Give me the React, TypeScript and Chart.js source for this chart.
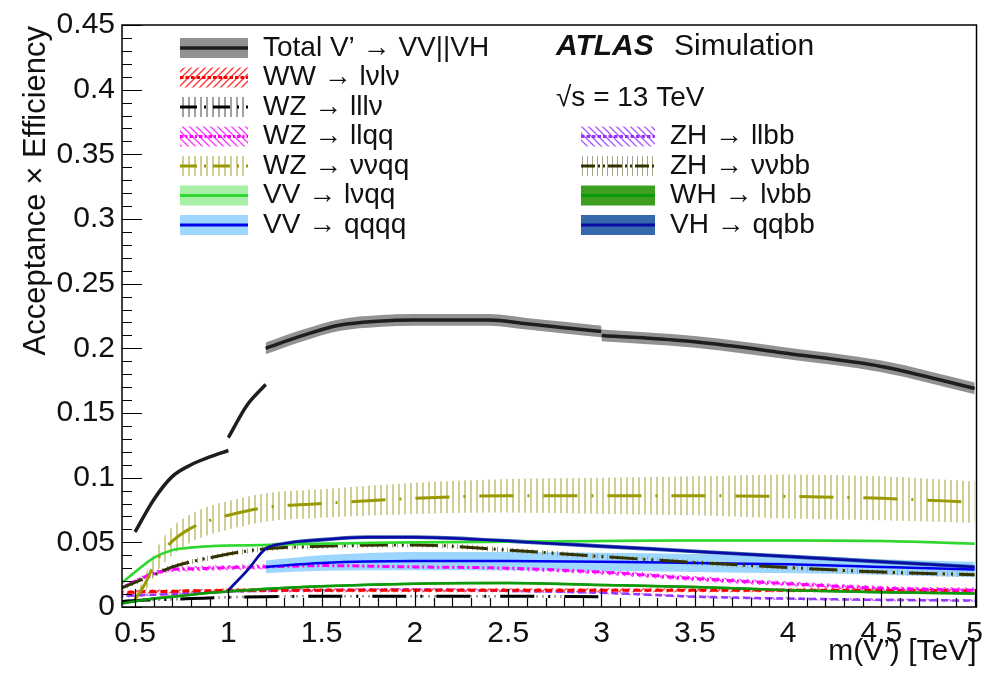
import React, { useEffect, useRef } from 'react';
import { Chart, registerables } from 'chart.js';

Chart.register(...registerables);

// ---------- axis ticks ----------
const yTickValues = [0, 0.05, 0.1, 0.15, 0.2, 0.25, 0.3, 0.35, 0.4, 0.45];
const yTickLabels = ['0', '0.05', '0.1', '0.15', '0.2', '0.25', '0.3', '0.35', '0.4', '0.45'];
const xTickValues = [0.5, 1, 1.5, 2, 2.5, 3, 3.5, 4, 4.5, 5];
const xTickLabels = ['0.5', '1', '1.5', '2', '2.5', '3', '3.5', '4', '4.5', '5'];

// ---------- series (mass in TeV) ----------
const commonMass = [0.4, 0.5, 0.6, 0.7, 0.8, 0.9, 1.0, 1.2, 1.5, 2.0, 2.5, 3.0, 3.5, 4.0, 4.5, 5.0];

const totalMass = [0.5, 0.6, 0.7, 0.8, 0.9, 1.0, 1.0, 1.1, 1.2, 1.2, 1.4, 1.6, 1.8, 2.0, 2.2, 2.4, 2.6, 2.8, 3.0, 3.0, 3.5, 4.0, 4.5, 5.0];
const totalSegment = [0, 0, 0, 0, 0, 0, 1, 1, 1, 2, 2, 2, 2, 2, 2, 2, 2, 2, 2, 3, 3, 3, 3, 3];
const totalValue = [0.058, 0.083, 0.101, 0.11, 0.116, 0.121, 0.131, 0.156, 0.172, 0.2, 0.21, 0.218, 0.221, 0.222, 0.222, 0.222, 0.219, 0.216, 0.213, 0.21, 0.205, 0.196, 0.186, 0.169];
const totalErr = [0.001, 0.001, 0.001, 0.001, 0.001, 0.001, 0.001, 0.001, 0.001, 0.0045, 0.0045, 0.0045, 0.0045, 0.0045, 0.0045, 0.0045, 0.0045, 0.0045, 0.0045, 0.0045, 0.0045, 0.0045, 0.0045, 0.0045];

const wwLvlv = [0.011, 0.0115, 0.012, 0.012, 0.0125, 0.0125, 0.013, 0.013, 0.013, 0.013, 0.013, 0.013, 0.013, 0.013, 0.013, 0.0125];
const wwLvlvErr = [0.0015, 0.0015, 0.0015, 0.0015, 0.0015, 0.0015, 0.0015, 0.0015, 0.0015, 0.0015, 0.0015, 0.0015, 0.0015, 0.0015, 0.0015, 0.0015];

const lllvMass = [0.4, 0.5, 0.6, 0.8, 1.0, 1.2, 1.5, 2.0, 2.5, 3.0];
const wzLllv = [0.004, 0.005, 0.0055, 0.0065, 0.0075, 0.008, 0.0083, 0.0083, 0.0083, 0.008];
const wzLllvErr = [0.001, 0.001, 0.001, 0.001, 0.001, 0.001, 0.001, 0.001, 0.001, 0.001];

const wzLlqq = [0.013, 0.02, 0.026, 0.029, 0.0295, 0.03, 0.0305, 0.031, 0.032, 0.031, 0.03, 0.027, 0.022, 0.018, 0.0145, 0.013];
const wzLlqqErr = [0.001, 0.0015, 0.002, 0.002, 0.002, 0.002, 0.002, 0.002, 0.002, 0.002, 0.002, 0.002, 0.002, 0.002, 0.002, 0.002];

const vvqqMass = [0.5, 0.55, 0.6, 0.65, 0.7, 0.8, 0.9, 1.0, 1.2, 1.5, 2.0, 2.5, 3.0, 3.5, 4.0, 4.5, 5.0];
const wzVvqq = [0.006, 0.017, 0.032, 0.043, 0.051, 0.061, 0.067, 0.071, 0.077, 0.08, 0.084, 0.086, 0.086, 0.086, 0.0855, 0.084, 0.081];
const wzVvqqErr = [0.002, 0.006, 0.009, 0.01, 0.011, 0.011, 0.011, 0.011, 0.011, 0.011, 0.012, 0.013, 0.014, 0.015, 0.017, 0.017, 0.016];

const vvLvqq = [0.015, 0.027, 0.038, 0.044, 0.046, 0.047, 0.0475, 0.048, 0.049, 0.05, 0.0505, 0.051, 0.0515, 0.0515, 0.051, 0.049];
const vvLvqqErr = [0.001, 0.001, 0.001, 0.001, 0.001, 0.001, 0.001, 0.001, 0.001, 0.001, 0.001, 0.001, 0.001, 0.001, 0.001, 0.001];

const qqqqMass = [1.2, 1.5, 2.0, 2.5, 3.0, 3.5, 4.0, 4.5, 5.0];
const vvQqqq = [0.031, 0.034, 0.0355, 0.0355, 0.035, 0.034, 0.033, 0.031, 0.029];
const vvQqqqErr = [0.005, 0.006, 0.007, 0.007, 0.007, 0.007, 0.007, 0.006, 0.006];

const zhLlbb = [0.008, 0.009, 0.0095, 0.01, 0.011, 0.0115, 0.012, 0.0125, 0.013, 0.0135, 0.0125, 0.011, 0.008, 0.0065, 0.0055, 0.005];
const zhLlbbErr = [0.001, 0.001, 0.001, 0.001, 0.001, 0.001, 0.001, 0.001, 0.001, 0.001, 0.001, 0.001, 0.001, 0.001, 0.001, 0.001];

const zhVvbb = [0.013, 0.019, 0.025, 0.031, 0.035, 0.038, 0.041, 0.045, 0.047, 0.048, 0.044, 0.039, 0.0345, 0.0305, 0.027, 0.025];
const zhVvbbErr = [0.002, 0.002, 0.002, 0.002, 0.002, 0.002, 0.002, 0.002, 0.002, 0.002, 0.002, 0.002, 0.002, 0.002, 0.002, 0.002];

const whLvbb = [0.002, 0.0045, 0.0065, 0.008, 0.0095, 0.011, 0.012, 0.014, 0.016, 0.018, 0.0185, 0.017, 0.0155, 0.013, 0.0115, 0.0105];
const whLvbbErr = [0.001, 0.001, 0.001, 0.001, 0.001, 0.001, 0.001, 0.001, 0.001, 0.001, 0.001, 0.001, 0.001, 0.001, 0.001, 0.001];

const qqbbMass = [1.0, 1.1, 1.2, 1.3, 1.5, 1.75, 2.0, 2.5, 3.0, 3.5, 4.0, 4.5, 5.0];
const vhQqbb = [0.013, 0.028, 0.045, 0.049, 0.052, 0.054, 0.054, 0.051, 0.047, 0.043, 0.039, 0.035, 0.031];
const vhQqbbErr = [0.0015, 0.0015, 0.0015, 0.0015, 0.0015, 0.0015, 0.0015, 0.0015, 0.0015, 0.0015, 0.0015, 0.0015, 0.0015];

// ---------- texts ----------
const seriesLabels = {
  total: 'Total V\u2019 \u2192 VV||VH',
  wwLvlv: 'WW \u2192 l\u03BDl\u03BD',
  wzLllv: 'WZ \u2192 lll\u03BD',
  wzLlqq: 'WZ \u2192 llqq',
  wzVvqq: 'WZ \u2192 \u03BD\u03BDqq',
  vvLvqq: 'VV \u2192 l\u03BDqq',
  vvQqqq: 'VV \u2192 qqqq',
  zhLlbb: 'ZH \u2192 llbb',
  zhVvbb: 'ZH \u2192 \u03BD\u03BDbb',
  whLvbb: 'WH \u2192 l\u03BDbb',
  vhQqbb: 'VH \u2192 qqbb',
};
const xTitle = 'm(V\u2019) [TeV]';
const yTitle = 'Acceptance \u00D7 Efficiency';
const FONT = "'Liberation Sans', Arial, Helvetica, sans-serif";

type Style = { line: string; width: number; dash: number[]; band: any };

export default function App() {
  const ref = useRef<HTMLCanvasElement>(null);

  useEffect(() => {
    const canvas = ref.current!;
    const mainCtx = canvas.getContext('2d')!;

    const pattern = (kind: string, color: string, size: number, lw: number) => {
      const c = document.createElement('canvas');
      c.width = size;
      c.height = size;
      const g = c.getContext('2d')!;
      g.strokeStyle = color;
      g.lineWidth = lw;
      g.beginPath();
      if (kind === 'v') {
        g.moveTo(size / 2, 0);
        g.lineTo(size / 2, size);
      } else if (kind === '/') {
        g.moveTo(0, size); g.lineTo(size, 0);
        g.moveTo(-size, size); g.lineTo(size, -size);
        g.moveTo(0, 2 * size); g.lineTo(2 * size, 0);
      } else {
        g.moveTo(0, 0); g.lineTo(size, size);
        g.moveTo(-size, 0); g.lineTo(size, 2 * size);
        g.moveTo(0, -size); g.lineTo(2 * size, size);
      }
      g.stroke();
      return mainCtx.createPattern(c, 'repeat');
    };

    const st: Record<string, Style> = {
      total: { line: '#1e1e1e', width: 3.5, dash: [], band: 'rgba(110,110,110,0.75)' },
      wwLvlv: { line: '#ff0000', width: 3, dash: [7, 4], band: pattern('/', '#ff3030', 7, 1.3) },
      wzLllv: { line: '#000000', width: 3, dash: [34, 14, 2, 14], band: pattern('v', '#444444', 6, 1) },
      wzLlqq: { line: '#ff00ff', width: 3, dash: [7, 3, 2, 3], band: pattern('\\', '#ff33ff', 7, 1.3) },
      wzVvqq: { line: '#999900', width: 3, dash: [34, 14, 2, 14], band: pattern('v', '#b5b55a', 6, 1.3) },
      vvLvqq: { line: '#2fd82f', width: 2.5, dash: [], band: '#a8f0a8' },
      vvQqqq: { line: '#0000ee', width: 2.5, dash: [], band: '#9dd6ff' },
      zhLlbb: { line: '#9933ff', width: 2.5, dash: [7, 4], band: pattern('\\', '#a855ff', 7, 1.3) },
      zhVvbb: { line: '#333300', width: 3, dash: [28, 6, 2, 6, 2, 6], band: pattern('v', '#a3a385', 5, 1) },
      whLvbb: { line: '#0a9a0a', width: 2.5, dash: [], band: '#3e9e22' },
      vhQqbb: { line: '#0a0aa5', width: 2.5, dash: [], band: '#3568ad' },
    };

    const datasets: any[] = [];
    const common = { pointRadius: 0, cubicInterpolationMode: 'monotone' };
    const addSeries = (pts: { x: number; y: number | null; e: number }[], s: Style) => {
      datasets.push({
        ...common,
        data: pts.map((p) => ({ x: p.x, y: p.y === null ? null : p.y + p.e })),
        fill: '+1', backgroundColor: s.band, borderColor: 'rgba(0,0,0,0)', borderWidth: 0, order: 1,
      });
      datasets.push({
        ...common,
        data: pts.map((p) => ({ x: p.x, y: p.y === null ? null : p.y - p.e })),
        fill: false, borderColor: 'rgba(0,0,0,0)', borderWidth: 0, order: 1,
      });
      datasets.push({
        ...common,
        data: pts.map((p) => ({ x: p.x, y: p.y })),
        fill: false, borderColor: s.line, borderWidth: s.width, borderDash: s.dash, order: 0,
      });
    };
    const pts = (mass: number[], val: number[], err: number[]) =>
      mass.map((m, i) => ({ x: m, y: val[i], e: err[i] }));

    // Total with gaps between segments
    const totalPts: { x: number; y: number | null; e: number }[] = [];
    totalMass.forEach((m, i) => {
      if (i > 0 && totalSegment[i] !== totalSegment[i - 1]) totalPts.push({ x: m, y: null, e: 0 });
      totalPts.push({ x: m, y: totalValue[i], e: totalErr[i] });
    });

    addSeries(totalPts, st.total);
    addSeries(pts(vvqqMass, wzVvqq, wzVvqqErr), st.wzVvqq);
    addSeries(pts(qqbbMass, vhQqbb, vhQqbbErr), st.vhQqbb);
    addSeries(pts(commonMass, vvLvqq, vvLvqqErr), st.vvLvqq);
    addSeries(pts(commonMass, zhVvbb, zhVvbbErr), st.zhVvbb);
    addSeries(pts(qqqqMass, vvQqqq, vvQqqqErr), st.vvQqqq);
    addSeries(pts(commonMass, wzLlqq, wzLlqqErr), st.wzLlqq);
    addSeries(pts(commonMass, whLvbb, whLvbbErr), st.whLvbb);
    addSeries(pts(commonMass, wwLvlv, wwLvlvErr), st.wwLvlv);
    addSeries(pts(commonMass, zhLlbb, zhLlbbErr), st.zhLlbb);
    addSeries(pts(lllvMass, wzLllv, wzLllvErr), st.wzLllv);

    const text = (ctx: CanvasRenderingContext2D, s: string, x: number, y: number, size: number, align: CanvasTextAlign, weight = 'normal', style = 'normal') => {
      ctx.font = `${style} ${weight} ${size}px ${FONT}`;
      ctx.textAlign = align;
      ctx.textBaseline = 'middle';
      ctx.fillStyle = '#111';
      ctx.fillText(s, x, y);
    };

    const symbol = (ctx: CanvasRenderingContext2D, x: number, y: number, w: number, h: number, s: Style) => {
      ctx.fillStyle = s.band;
      ctx.fillRect(x, y - h / 2, w, h);
      ctx.strokeStyle = s.line;
      ctx.lineWidth = Math.max(s.width, 3);
      ctx.setLineDash(s.dash.length ? s.dash.map((d) => Math.max(2, d * 0.5)) : []);
      ctx.beginPath();
      ctx.moveTo(x, y);
      ctx.lineTo(x + w, y);
      ctx.stroke();
      ctx.setLineDash([]);
    };

    const overlay = {
      id: 'overlay',
      afterDraw(chart: any) {
        const ctx: CanvasRenderingContext2D = chart.ctx;
        const a = chart.chartArea;
        const xs = chart.scales.x;
        const ys = chart.scales.y;
        ctx.save();
        // frame
        ctx.strokeStyle = '#000';
        ctx.lineWidth = 1.5;
        ctx.strokeRect(a.left, a.top, a.right - a.left, a.bottom - a.top);
        // ticks
        ctx.lineWidth = 1.2;
        ctx.beginPath();
        for (let i = 0; i <= 45; i++) {
          const py = Math.round(ys.getPixelForValue(i / 100)) + 0.5;
          const len = i % 5 === 0 ? 20 : 10;
          ctx.moveTo(a.left, py);
          ctx.lineTo(a.left + len, py);
        }
        for (let i = 5; i <= 50; i++) {
          const px = Math.round(xs.getPixelForValue(i / 10)) + 0.5;
          const len = i % 5 === 0 ? 18 : 9;
          ctx.moveTo(px, a.bottom);
          ctx.lineTo(px, a.bottom - len);
        }
        ctx.stroke();

        // axis titles
        text(ctx, xTitle, a.right, 652, 30, 'right');
        ctx.save();
        ctx.translate(36, a.top + 1);
        ctx.rotate(-Math.PI / 2);
        text(ctx, yTitle, 0, 0, 31, 'right');
        ctx.restore();

        // legend, left column
        const leftRows: [string, Style][] = [
          [seriesLabels.total, st.total],
          [seriesLabels.wwLvlv, st.wwLvlv],
          [seriesLabels.wzLllv, st.wzLllv],
          [seriesLabels.wzLlqq, st.wzLlqq],
          [seriesLabels.wzVvqq, st.wzVvqq],
          [seriesLabels.vvLvqq, st.vvLvqq],
          [seriesLabels.vvQqqq, st.vvQqqq],
        ];
        leftRows.forEach(([label, s], i) => {
          const yy = 48 + i * 29.5;
          symbol(ctx, 180, yy, 68, 20, s);
          text(ctx, label, 263, yy, 28, 'left');
        });
        const rightRows: [string, Style][] = [
          [seriesLabels.zhLlbb, st.zhLlbb],
          [seriesLabels.zhVvbb, st.zhVvbb],
          [seriesLabels.whLvbb, st.whLvbb],
          [seriesLabels.vhQqbb, st.vhQqbb],
        ];
        rightRows.forEach(([label, s], i) => {
          const yy = 136.5 + i * 29.5;
          symbol(ctx, 581, yy, 74, 20, s);
          text(ctx, label, 670, yy, 28, 'left');
        });

        // ATLAS label
        text(ctx, 'ATLAS', 556, 47, 30, 'left', 'bold', 'italic');
        text(ctx, 'Simulation', 674, 47, 30, 'left');
        text(ctx, '\u221As = 13 TeV', 556, 98, 28, 'left');
        ctx.restore();
      },
    };

    const chart = new Chart(canvas, {
      type: 'line',
      data: { datasets },
      options: {
        animation: false,
        responsive: false,
        layout: { padding: { left: 0, top: 13, right: 5, bottom: 0 } },
        plugins: {
          legend: { display: false },
          tooltip: { enabled: false },
          filler: { drawTime: 'beforeDatasetsDraw' },
        } as any,
        scales: {
          x: {
            type: 'linear',
            min: 0.43,
            max: 5.01,
            afterBuildTicks: (s: any) => { s.ticks = xTickValues.map((v) => ({ value: v })); },
            afterFit: (s: any) => { s.height = 73; },
            grid: { display: false, drawTicks: false },
            border: { display: false },
            ticks: {
              autoSkip: false, maxRotation: 0, padding: 9, color: '#111',
              font: { family: FONT, size: 30 },
              callback: (_v: any, i: number) => xTickLabels[i],
            },
          },
          y: {
            type: 'linear',
            min: 0,
            max: 0.45,
            afterBuildTicks: (s: any) => { s.ticks = yTickValues.map((v) => ({ value: v })); },
            afterFit: (s: any) => { s.width = 122; },
            grid: { display: false, drawTicks: false },
            border: { display: false },
            ticks: {
              padding: 7, color: '#111',
              font: { family: FONT, size: 30 },
              callback: (_v: any, i: number) => yTickLabels[i],
            },
          },
        },
      } as any,
      plugins: [overlay],
    });
    return () => chart.destroy();
  }, []);

  return (
    <div style={{ position: 'fixed', left: 0, top: 0, width: 992, height: 680, background: '#fff' }}>
      <canvas ref={ref} width={992} height={680} style={{ display: 'block', width: 992, height: 680 }} />
    </div>
  );
}
